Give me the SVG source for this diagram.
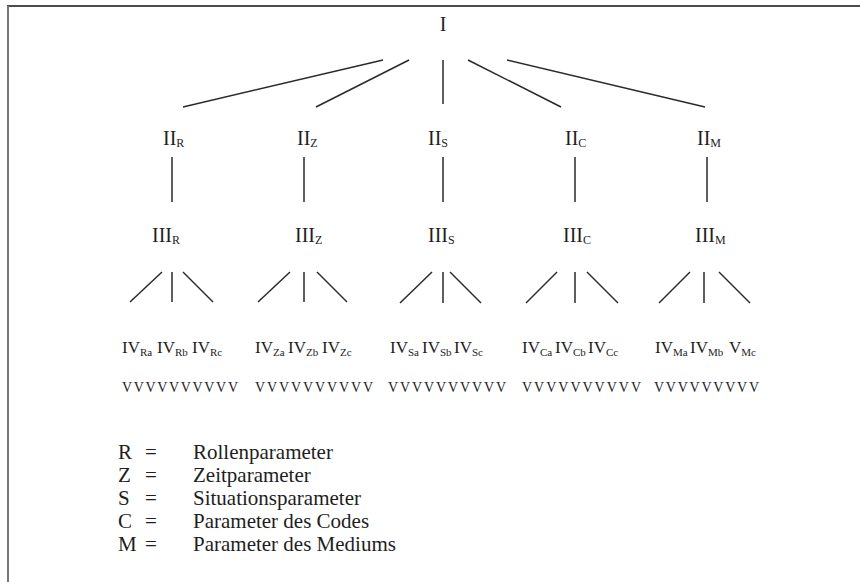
<svg xmlns="http://www.w3.org/2000/svg" width="860" height="582" viewBox="0 0 860 582">
<style>
text{font-family:"Liberation Serif","Times New Roman",serif;fill:#1e1e1e}
.n{font-size:20px}
.s{font-size:12px}
.iv{font-size:17px}
.ss{font-size:11px}
.v{font-size:14px}
.lg{font-size:21px}
.c line{stroke:#2a2a2a;stroke-width:1.5}
</style>
<rect width="860" height="582" fill="#fff"/>
<g id="frame">
<line x1="7" y1="6" x2="860" y2="6" stroke="#111" stroke-width="1.5"/>
<line x1="8" y1="6" x2="8" y2="582" stroke="#777" stroke-width="2"/>
</g>
<g class="c" id="connectors">
<line x1="383" y1="60" x2="183" y2="107"/>
<line x1="409" y1="60" x2="316" y2="107"/>
<line x1="443" y1="60" x2="443" y2="104"/>
<line x1="468" y1="60" x2="561" y2="107"/>
<line x1="507" y1="60" x2="705" y2="107"/>
<line x1="172" y1="157" x2="172" y2="202"/>
<line x1="304" y1="157" x2="304" y2="202"/>
<line x1="443" y1="157" x2="443" y2="202"/>
<line x1="575" y1="157" x2="575" y2="202"/>
<line x1="707" y1="157" x2="707" y2="202"/>
<line x1="130" y1="302" x2="162" y2="272"/>
<line x1="172" y1="272" x2="172" y2="302"/>
<line x1="183" y1="272" x2="213" y2="302"/>
<line x1="258" y1="302" x2="290" y2="272"/>
<line x1="304" y1="272" x2="304" y2="302"/>
<line x1="317" y1="272" x2="347" y2="302"/>
<line x1="400" y1="303" x2="432" y2="272"/>
<line x1="443" y1="272" x2="443" y2="303"/>
<line x1="450" y1="272" x2="481" y2="303"/>
<line x1="526" y1="303" x2="557" y2="272"/>
<line x1="575" y1="272" x2="575" y2="303"/>
<line x1="587" y1="272" x2="618" y2="303"/>
<line x1="659" y1="303" x2="690" y2="272"/>
<line x1="704" y1="272" x2="704" y2="303"/>
<line x1="719" y1="272" x2="750" y2="303"/>
</g>
<g id="n-I"><text class="n" x="443" y="31" text-anchor="middle">I</text></g>
<g id="n-IIR"><text class="n" x="163" y="145">II<tspan class="s" dy="2">R</tspan></text></g>
<g id="n-IIZ"><text class="n" x="297" y="145">II<tspan class="s" dy="2">Z</tspan></text></g>
<g id="n-IIS"><text class="n" x="428" y="145">II<tspan class="s" dy="2">S</tspan></text></g>
<g id="n-IIC"><text class="n" x="565" y="145">II<tspan class="s" dy="2">C</tspan></text></g>
<g id="n-IIM"><text class="n" x="697" y="145">II<tspan class="s" dy="2">M</tspan></text></g>
<g id="n-IIIR"><text class="n" x="152" y="242">III<tspan class="s" dy="2">R</tspan></text></g>
<g id="n-IIIZ"><text class="n" x="295" y="242">III<tspan class="s" dy="2">Z</tspan></text></g>
<g id="n-IIIS"><text class="n" x="428" y="242">III<tspan class="s" dy="2">S</tspan></text></g>
<g id="n-IIIC"><text class="n" x="563" y="242">III<tspan class="s" dy="2">C</tspan></text></g>
<g id="n-IIIM"><text class="n" x="695" y="242">III<tspan class="s" dy="2">M</tspan></text></g>
<g id="n-IVR">
<text class="iv" x="122" y="353">IV<tspan class="ss" dy="3">Ra</tspan></text>
<text class="iv" x="157" y="353">IV<tspan class="ss" dy="3">Rb</tspan></text>
<text class="iv" x="192" y="353">IV<tspan class="ss" dy="3">Rc</tspan></text>
</g>
<g id="n-IVZ">
<text class="iv" x="255" y="353">IV<tspan class="ss" dy="3">Za</tspan></text>
<text class="iv" x="288" y="353">IV<tspan class="ss" dy="3">Zb</tspan></text>
<text class="iv" x="322" y="353">IV<tspan class="ss" dy="3">Zc</tspan></text>
</g>
<g id="n-IVS">
<text class="iv" x="390" y="353">IV<tspan class="ss" dy="3">Sa</tspan></text>
<text class="iv" x="422" y="353">IV<tspan class="ss" dy="3">Sb</tspan></text>
<text class="iv" x="454" y="353">IV<tspan class="ss" dy="3">Sc</tspan></text>
</g>
<g id="n-IVC">
<text class="iv" x="522" y="353">IV<tspan class="ss" dy="3">Ca</tspan></text>
<text class="iv" x="555" y="353">IV<tspan class="ss" dy="3">Cb</tspan></text>
<text class="iv" x="588" y="353">IV<tspan class="ss" dy="3">Cc</tspan></text>
</g>
<g id="n-IVM">
<text class="iv" x="655" y="353">IV<tspan class="ss" dy="3">Ma</tspan></text>
<text class="iv" x="690" y="353">IV<tspan class="ss" dy="3">Mb</tspan></text>
<text class="iv" x="729" y="353">V<tspan class="ss" dy="3">Mc</tspan></text>
</g>
<g id="n-V">
<text class="v" x="122" y="392" textLength="116" lengthAdjust="spacing">VVVVVVVVVV</text>
<text class="v" x="255" y="392" textLength="118" lengthAdjust="spacing">VVVVVVVVVV</text>
<text class="v" x="388" y="392" textLength="118" lengthAdjust="spacing">VVVVVVVVVV</text>
<text class="v" x="522" y="392" textLength="119" lengthAdjust="spacing">VVVVVVVVVV</text>
<text class="v" x="654" y="392" textLength="105" lengthAdjust="spacing">VVVVVVVVV</text>
</g>
<g id="legend">
<text class="lg" x="118" y="459">R</text><text class="lg" x="145" y="459">=</text><text class="lg" x="193" y="459">Rollenparameter</text>
<text class="lg" x="118" y="482">Z</text><text class="lg" x="145" y="482">=</text><text class="lg" x="193" y="482">Zeitparameter</text>
<text class="lg" x="118" y="505">S</text><text class="lg" x="145" y="505">=</text><text class="lg" x="193" y="505">Situationsparameter</text>
<text class="lg" x="118" y="528">C</text><text class="lg" x="145" y="528">=</text><text class="lg" x="193" y="528">Parameter des Codes</text>
<text class="lg" x="118" y="551">M</text><text class="lg" x="145" y="551">=</text><text class="lg" x="193" y="551">Parameter des Mediums</text>
</g>
</svg>
